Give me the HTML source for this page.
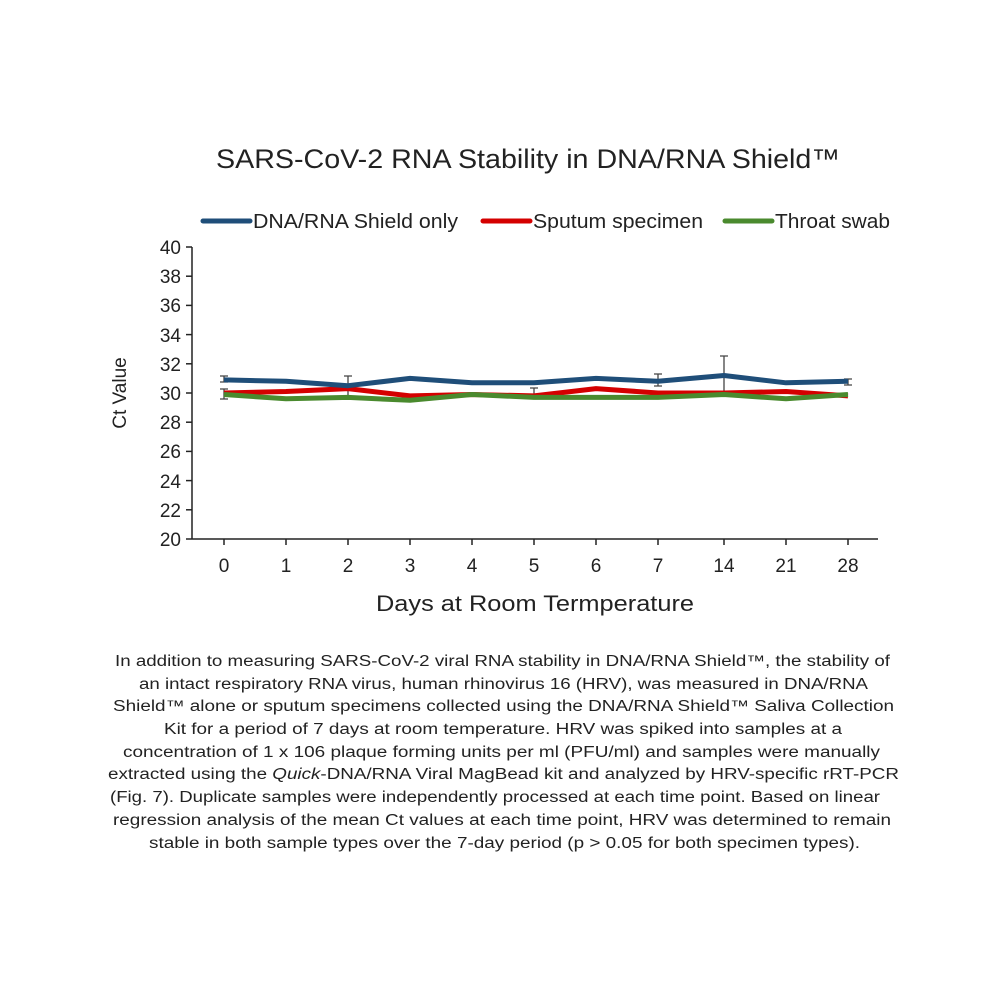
<!DOCTYPE html>
<html><head><meta charset="utf-8"><style>html,body{margin:0;padding:0;background:#fff}svg{display:block}</style></head><body>
<svg width="1000" height="1000" viewBox="0 0 1000 1000" xmlns="http://www.w3.org/2000/svg" font-family="Liberation Sans, Arial, sans-serif">
<rect width="1000" height="1000" fill="#fff"/>
<text x="216" y="168" font-size="27" fill="#222" textLength="624" lengthAdjust="spacingAndGlyphs">SARS-CoV-2 RNA Stability in DNA/RNA Shield™</text>
<g font-size="20" fill="#222">
<line x1="203" y1="221" x2="250" y2="221" stroke="#1f4e79" stroke-width="5" stroke-linecap="round"/>
<text x="253" y="228" textLength="205" lengthAdjust="spacingAndGlyphs">DNA/RNA Shield only</text>
<line x1="483" y1="221" x2="530" y2="221" stroke="#d40000" stroke-width="5" stroke-linecap="round"/>
<text x="533" y="228" textLength="170" lengthAdjust="spacingAndGlyphs">Sputum specimen</text>
<line x1="725" y1="221" x2="772" y2="221" stroke="#4a8a2e" stroke-width="5" stroke-linecap="round"/>
<text x="775" y="228" textLength="115" lengthAdjust="spacingAndGlyphs">Throat swab</text>
</g>
<g stroke="#222" stroke-width="1.5">
<line x1="192" y1="247" x2="192" y2="539"/>
<line x1="186" y1="539" x2="878" y2="539"/>
<line x1="186" y1="247" x2="192" y2="247"/><line x1="186" y1="276.2" x2="192" y2="276.2"/><line x1="186" y1="305.4" x2="192" y2="305.4"/><line x1="186" y1="334.6" x2="192" y2="334.6"/><line x1="186" y1="363.8" x2="192" y2="363.8"/><line x1="186" y1="393" x2="192" y2="393"/><line x1="186" y1="422.2" x2="192" y2="422.2"/><line x1="186" y1="451.4" x2="192" y2="451.4"/><line x1="186" y1="480.6" x2="192" y2="480.6"/><line x1="186" y1="509.8" x2="192" y2="509.8"/>
<line x1="224" y1="539" x2="224" y2="545"/><line x1="286" y1="539" x2="286" y2="545"/><line x1="348" y1="539" x2="348" y2="545"/><line x1="410" y1="539" x2="410" y2="545"/><line x1="472" y1="539" x2="472" y2="545"/><line x1="534" y1="539" x2="534" y2="545"/><line x1="596" y1="539" x2="596" y2="545"/><line x1="658" y1="539" x2="658" y2="545"/><line x1="724" y1="539" x2="724" y2="545"/><line x1="786" y1="539" x2="786" y2="545"/><line x1="848" y1="539" x2="848" y2="545"/>
</g>
<g font-size="19" fill="#222" text-anchor="end">
<text x="181" y="254">40</text><text x="181" y="283">38</text><text x="181" y="312">36</text><text x="181" y="342">34</text><text x="181" y="371">32</text><text x="181" y="400">30</text><text x="181" y="429">28</text><text x="181" y="458">26</text><text x="181" y="488">24</text><text x="181" y="517">22</text><text x="181" y="546">20</text>
</g>
<g font-size="19" fill="#222" text-anchor="middle">
<text x="224" y="572">0</text><text x="286" y="572">1</text><text x="348" y="572">2</text><text x="410" y="572">3</text><text x="472" y="572">4</text><text x="534" y="572">5</text><text x="596" y="572">6</text><text x="658" y="572">7</text><text x="724" y="572">14</text><text x="786" y="572">21</text><text x="848" y="572">28</text>
</g>
<text transform="translate(126,393) rotate(-90)" font-size="19" fill="#222" text-anchor="middle">Ct Value</text>
<text x="376" y="611" font-size="22" fill="#222" textLength="318" lengthAdjust="spacingAndGlyphs">Days at Room Termperature</text>
<g stroke="#444" stroke-width="1.3" fill="none">
<path d="M224 376v6M220 376h8M220 382h8"/>
<path d="M224 389v10M220 389h8M220 399h8"/>
<path d="M348 376v22M344 376h8M344 398h8"/>
<path d="M534 388v10M530 388h8"/>
<path d="M658 374v12M654 374h8M654 386h8"/>
<path d="M724 356v38M720 356h8"/>
<path d="M848 379v6M844 379h8M844 385h8"/>
</g>
<polyline fill="none" stroke="#d40000" stroke-width="5" stroke-linejoin="round" points="224,393 286,391.5 348,388.6 410,395.9 472,394.5 534,395.9 596,388.6 658,393 724,393 786,391.5 848,395.9"/>
<polyline fill="none" stroke="#4a8a2e" stroke-width="5" stroke-linejoin="round" points="224,394.5 286,398.8 348,397.4 410,400.3 472,394.5 534,397.4 596,397.4 658,397.4 724,394.5 786,398.8 848,394.5"/>
<polyline fill="none" stroke="#1f4e79" stroke-width="5" stroke-linejoin="round" points="224,379.9 286,381.3 348,385.7 410,378.4 472,382.8 534,382.8 596,378.4 658,381.3 724,375.5 786,382.8 848,381.3"/>
<g font-size="15.5" fill="#222">
<text x="115" y="666" textLength="775" lengthAdjust="spacingAndGlyphs">In addition to measuring SARS-CoV-2 viral RNA stability in DNA/RNA Shield™, the stability of</text>
<text x="139" y="689" textLength="729" lengthAdjust="spacingAndGlyphs">an intact respiratory RNA virus, human rhinovirus 16 (HRV), was measured in DNA/RNA</text>
<text x="113" y="711" textLength="781" lengthAdjust="spacingAndGlyphs">Shield™ alone or sputum specimens collected using the DNA/RNA Shield™ Saliva Collection</text>
<text x="164" y="734" textLength="678" lengthAdjust="spacingAndGlyphs">Kit for a period of 7 days at room temperature. HRV was spiked into samples at a</text>
<text x="123" y="757" textLength="757" lengthAdjust="spacingAndGlyphs">concentration of 1 x 106 plaque forming units per ml (PFU/ml) and samples were manually</text>
<text x="108" y="779" textLength="791" lengthAdjust="spacingAndGlyphs">extracted using the <tspan font-style="italic">Quick</tspan>-DNA/RNA Viral MagBead kit and analyzed by HRV-specific rRT-PCR</text>
<text x="110" y="802" textLength="770" lengthAdjust="spacingAndGlyphs">(Fig. 7). Duplicate samples were independently processed at each time point. Based on linear</text>
<text x="113" y="825" textLength="778" lengthAdjust="spacingAndGlyphs">regression analysis of the mean Ct values at each time point, HRV was determined to remain</text>
<text x="149" y="848" textLength="711" lengthAdjust="spacingAndGlyphs">stable in both sample types over the 7-day period (p &gt; 0.05 for both specimen types).</text>
</g>
</svg>
</body></html>
